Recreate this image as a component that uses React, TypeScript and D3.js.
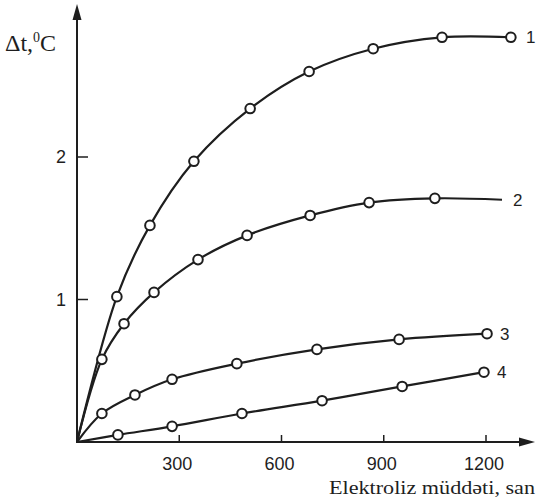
import React from 'react'
import * as d3 from 'd3'

// electrolysis time (s) vs temperature rise, 4 curves
const timeTicks = [300, 600, 900, 1200]
const tempTicks = [1, 2]

const curve1Time = [0, 117, 214, 343, 508, 681, 869, 1071, 1273]
const curve1Temp = [0, 1.02, 1.52, 1.97, 2.34, 2.6, 2.76, 2.84, 2.84]

const curve2Time = [0, 73, 138, 226, 355, 499, 684, 857, 1050, 1247]
const curve2Temp = [0, 0.58, 0.83, 1.05, 1.28, 1.45, 1.59, 1.68, 1.71, 1.7]

const curve3Time = [0, 73, 170, 279, 469, 704, 945, 1203]
const curve3Temp = [0, 0.2, 0.33, 0.44, 0.55, 0.65, 0.72, 0.76]

const curve4Time = [0, 120, 279, 484, 719, 954, 1194]
const curve4Temp = [0, 0.05, 0.11, 0.2, 0.29, 0.39, 0.49]

const curveNames = ['1', '2', '3', '4']
// last point of curve 2 is a line end without a circle
const openEnds = [false, true, false, false]

const W = 536
const H = 499
const ink = '#1e1e1e'

export default function App() {
  const x = d3.scaleLinear().domain([0, 1200]).range([77, 486])
  const y = d3.scaleLinear().domain([0, 2]).range([442, 157])

  const curves = [
    [curve1Time, curve1Temp],
    [curve2Time, curve2Temp],
    [curve3Time, curve3Temp],
    [curve4Time, curve4Temp],
  ].map(([t, v]) => t.map((d, i) => [d, v[i]] as [number, number]))

  const line = d3.line<[number, number]>()
    .x(d => x(d[0]))
    .y(d => y(d[1]))
    .curve(d3.curveCatmullRom.alpha(0.5))

  const x0 = x(0)
  const y0 = y(0)

  return (
    <div style={{ position: 'fixed', left: 0, top: 0 }}>
      <svg width={W} height={H} style={{ display: 'block', background: '#fff' }}>
        {/* axes */}
        <line x1={x0} y1={y0 + 1} x2={x0} y2={14} stroke={ink} strokeWidth={2} />
        <path d={`M${x0},4 L${x0 - 4.5},20 L${x0 + 4.5},20 Z`} fill={ink} />
        <line x1={x0 - 1} y1={y0} x2={524} y2={y0} stroke={ink} strokeWidth={2} />
        <path d={`M535,${y0} L519,${y0 - 4.5} L519,${y0 + 4.5} Z`} fill={ink} />

        {timeTicks.map(t => (
          <g key={t}>
            <line x1={x(t)} x2={x(t)} y1={y0} y2={y0 - 7} stroke={ink} strokeWidth={1.5} />
            <text x={x(t) - 2} y={470} textAnchor="middle" fontFamily="Liberation Sans, Arial, sans-serif"
              fontSize={18} fill={ink}>{t}</text>
          </g>
        ))}
        {tempTicks.map(t => (
          <g key={t}>
            <line x1={x0} x2={x0 + 11} y1={y(t)} y2={y(t)} stroke={ink} strokeWidth={1.5} />
            <text x={66} y={y(t) + 6} textAnchor="end" fontFamily="Liberation Sans, Arial, sans-serif"
              fontSize={18} fill={ink}>{t}</text>
          </g>
        ))}

        <text x={5} y={51} fontFamily="Liberation Serif, Times New Roman, serif" fontSize={24} fill={ink}>
          Δt,<tspan dy={-9} fontSize={14}>0</tspan><tspan dy={9}>C</tspan>
        </text>
        <text x={329} y={494} textLength={206} lengthAdjust="spacingAndGlyphs"
          fontFamily="Liberation Serif, Times New Roman, serif"
          fontSize={19} fill={ink}>Elektroliz müddəti, san</text>

        {/* curves */}
        {curves.map((pts, k) => {
          const marks = pts.slice(1, openEnds[k] ? -1 : undefined)
          const last = pts[pts.length - 1]
          return (
            <g key={k}>
              <path d={line(pts) || ''} fill="none" stroke={ink} strokeWidth={2.2} />
              {marks.map((d, i) => (
                <circle key={i} cx={x(d[0])} cy={y(d[1])} r={4.8} fill="#fff" stroke={ink} strokeWidth={2} />
              ))}
              <text x={x(last[0]) + (openEnds[k] ? 11 : k === 0 ? 15 : 13)} y={y(last[1]) + 6}
                fontFamily="Liberation Sans, Arial, sans-serif" fontSize={17} fill={ink}>{curveNames[k]}</text>
            </g>
          )
        })}
      </svg>
    </div>
  )
}
